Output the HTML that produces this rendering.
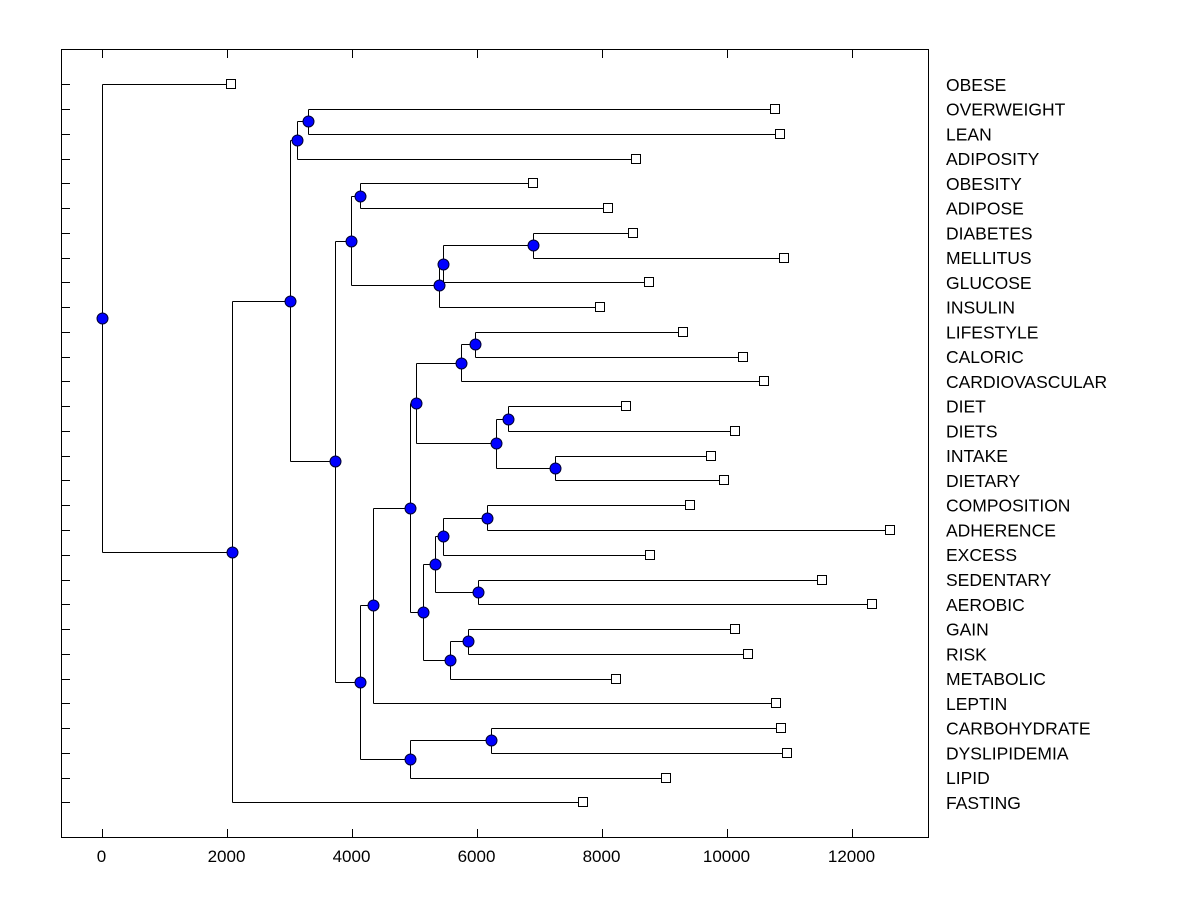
<!DOCTYPE html>
<html><head><meta charset="utf-8"><style>
body{margin:0;background:#fff}
svg{display:block}
text{font-family:"Liberation Sans",Arial,sans-serif;fill:#000}
</style></head><body>
<svg id="chart" width="1200" height="900">
<rect x="61.5" y="49.5" width="867" height="788" fill="none" stroke="#000"/>
<g id="axes"></g><g id="tree"></g>
</svg>
<script>
const leafNames = ["OBESE","OVERWEIGHT","LEAN","ADIPOSITY","OBESITY","ADIPOSE","DIABETES","MELLITUS","GLUCOSE","INSULIN","LIFESTYLE","CALORIC","CARDIOVASCULAR","DIET","DIETS","INTAKE","DIETARY","COMPOSITION","ADHERENCE","EXCESS","SEDENTARY","AEROBIC","GAIN","RISK","METABOLIC","LEPTIN","CARBOHYDRATE","DYSLIPIDEMIA","LIPID","FASTING"];
const leafValues = [2070,10776,10856,8552,6904,8104,8504,10920,8760,7976,9304,10264,10600,8392,10136,9752,9960,9416,12616,8776,11528,12328,10136,10344,8232,10792,10872,10968,9032,7704];
const nodeNames = ["root","n1","n2","n3","n5","n4","n6","n8","n9","n10","n11","n7","n12","n14","n15","n17","n19","n18","n20","n21","n16","n22","n24","n26","n25","n23","n27","n13","n28"];
const nodeHeights = [0,2088,3016,3128,3304,3736,3992,4136,5400,5464,6904,4136,4344,4936,5032,5752,5976,6312,6504,7256,5144,5336,5464,6168,6024,5576,5864,4936,6232];
const nodeChildren = [["OBESE","n1"],["n2","FASTING"],["n3","n4"],["n5","ADIPOSITY"],["OVERWEIGHT","LEAN"],["n6","n7"],["n8","n9"],["OBESITY","ADIPOSE"],["n10","INSULIN"],["n11","GLUCOSE"],["DIABETES","MELLITUS"],["n12","n13"],["n14","LEPTIN"],["n15","n16"],["n17","n18"],["n19","CARDIOVASCULAR"],["LIFESTYLE","CALORIC"],["n20","n21"],["DIET","DIETS"],["INTAKE","DIETARY"],["n22","n23"],["n24","n25"],["n26","EXCESS"],["COMPOSITION","ADHERENCE"],["SEDENTARY","AEROBIC"],["n27","METABOLIC"],["GAIN","RISK"],["n28","LIPID"],["CARBOHYDRATE","DYSLIPIDEMIA"]];
const xTicks = [0,2000,4000,6000,8000,10000,12000];

const NS="http://www.w3.org/2000/svg";
const xs = v => 101.5 + v*0.0625;
const ys = i => 84.3 + i*24.76;
function mk(tag, attrs, parent){const e=document.createElementNS(NS,tag);for(const k in attrs)e.setAttribute(k,attrs[k]);parent.appendChild(e);return e;}
const axes=document.getElementById('axes'), tree=document.getElementById('tree');
xTicks.forEach(t=>{
  const x=Math.round(xs(t))+0.5;
  let l=mk('line',{x1:x,x2:x,y1:838,y2:829,stroke:'#000'},axes);
  
  
  l=mk('line',{x1:x,x2:x,y1:49,y2:58,stroke:'#000'},axes);
  
  
  const tx=mk('text',{x:xs(t),y:862,'font-size':17,'text-anchor':'middle'},axes);
  tx.textContent=t;
  
  
});
const pos={};
leafNames.forEach((n,i)=>{
  const y=Math.round(ys(i))+0.5;
  pos[n]={x:xs(leafValues[i]),y:ys(i),leaf:true};
  let l=mk('line',{x1:61,x2:70,y1:y,y2:y,stroke:'#000'},axes);
  
  
  const tx=mk('text',{x:946,y:ys(i)+6.5,'font-size':17.5},axes);
  tx.textContent=n;
  
  
});
function place(name){
  if(pos[name]) return pos[name];
  const k=nodeNames.indexOf(name);
  const ch=nodeChildren[k].map(place);
  pos[name]={x:xs(nodeHeights[k]),y:(ch[0].y+ch[1].y)/2,ch:ch};
  return pos[name];
}
place("root");
nodeNames.forEach(n=>{
  const p=pos[n], px=Math.round(p.x)+0.5;
  const v=mk('line',{x1:px,x2:px,y1:Math.round(p.ch[0].y)+0.5,y2:Math.round(p.ch[1].y)+0.5,stroke:'#000'},tree);
  
  
  p.ch.forEach(c=>{
    const cy=Math.round(c.y)+0.5;
    const h=mk('line',{x1:px,x2:Math.round(c.x)+0.5,y1:cy,y2:cy,stroke:'#000'},tree);
    
    
  });
});
leafNames.forEach(n=>{
  const p=pos[n];
  const r=mk('rect',{x:Math.round(p.x)-4.5,y:Math.round(p.y)-4.5,width:9,height:9,fill:'#fff',stroke:'#000'},tree);
  
  
});
nodeNames.forEach(n=>{
  const p=pos[n];
  const c=mk('circle',{cx:Math.round(p.x)+0.5,cy:Math.round(p.y)+0.5,r:5.5,fill:'#0000ff',stroke:'#000033','stroke-width':1},tree);
  
  
});
</script>
</body></html>
